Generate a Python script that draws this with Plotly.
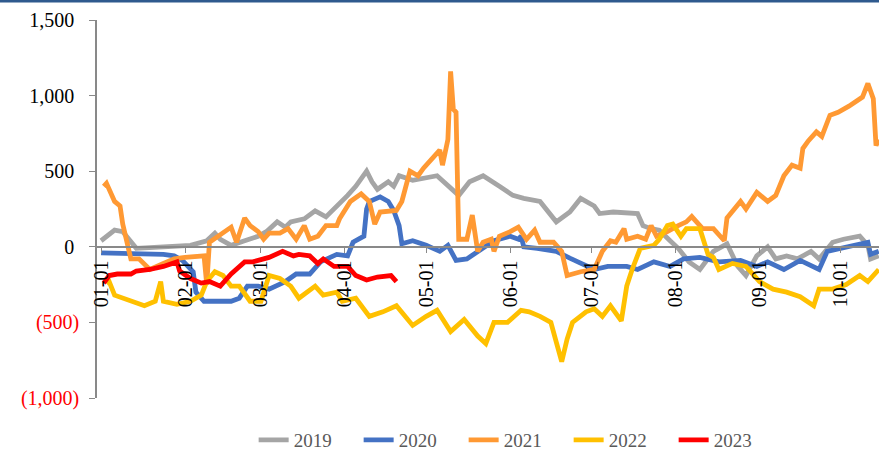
import plotly.graph_objects as go

# x = day of year (0 = Jan 1), y = value
tick_days = [0, 31, 59, 90, 120, 151, 181, 212, 243, 273]
tick_labels = ["01-01", "02-01", "03-01", "04-01", "05-01", "06-01", "07-01", "08-01", "09-01", "10-01"]

y_tickvals = [1500, 1000, 500, 0, -500, -1000]
y_ticklabels = ["1,500", "1,000", "500", "0", "(500)", "(1,000)"]

d2019 = [0, 5, 8, 11, 13, 23, 33, 39, 42, 44, 48, 53, 58, 61, 65, 68, 70, 75, 79, 83, 87, 91, 94, 98, 100, 102, 106, 108,
         110, 115, 124, 128, 132, 136, 141, 147, 152, 156, 161, 162, 168, 173, 177, 182, 184, 189, 198, 200, 203, 206,
         210, 213, 217, 221, 226, 231, 235, 238, 242, 246, 249, 253, 257, 262, 265, 270, 274, 280, 283, 284, 287]
v2019 = [40, 110, 100, 40, -10, 0, 10, 40, 90, 50, 10, 40, 70, 100, 165, 130, 165, 185, 238, 198, 265, 340, 400, 500, 430, 380, 430, 400,
         470, 440, 470, 400, 340, 430, 470, 400, 340, 320, 300, 300, 165, 230, 320, 270, 220, 230, 220, 140, 120, 110,
         40, -10, -100, -150, -30, 20, -130, -190, -60, 0, -80, -60, -80, -30, -80, 30, 50, 70, 10, -80, -60]

d2020 = [0, 23, 27, 30, 34, 35, 38, 43, 48, 51, 54, 58, 62, 68, 72, 77, 81, 87, 91, 93, 97, 98, 99, 103, 106, 108, 110, 111,
         115, 120, 125, 128, 131, 135, 139, 145, 151, 154, 155, 156, 161, 168, 173, 177, 182, 187, 194, 198, 204, 210,
         215, 221, 228, 236, 242, 246, 252, 258, 265, 268, 273, 280, 283, 284, 287]
v2020 = [-40, -50, -60, -90, -165, -300, -360, -360, -360, -340, -260, -260, -280, -230, -180, -180, -100, -50, -60, 30, 70, 250, 300, 330, 300, 240, 140, 20,
         40, 10, -30, 10, -90, -80, -30, 40, 70, 50, 70, 0, -10, -30, -75, -110, -150, -130, -130, -150, -100, -130,
         -80, -70, -100, -90, -130, -100, -150, -90, -150, -30, -10, 20, 30, -50, -30]

d2021 = [1, 2, 5, 7, 8, 11, 14, 18, 23, 27, 31, 38, 39, 40, 48, 50, 53, 55, 58, 60, 62, 66, 69, 72, 75, 77, 80, 83, 87,
         88, 92, 96, 99, 101, 103, 109, 111, 114, 117, 119, 125, 126, 128, 129, 130, 131, 132, 135, 137, 139, 141, 144,
         145, 147, 151, 154, 157, 160, 162, 167, 170, 172, 177, 182, 185, 188, 190, 193, 194, 198, 201, 203, 205, 209,
         213, 216, 218, 222, 226, 230, 231, 233, 236, 238, 242, 246, 249, 252, 255, 258, 259, 261, 264, 266, 269, 272,
         276, 281, 283, 285, 286, 287]
v2021 = [400, 420, 300, 270, 150, -80, -80, -150, -110, -80, -70, -60, -250, 30, 130, 30, 190, 140, 100, 50, 90, 90, 120, 50, 140, 50, 70, 140, 140,
         185, 300, 350, 300, 150, 230, 240, 300, 500, 470, 520, 640, 540, 710, 1160, 910, 890, 50, 50, 210, -30, 30, 50,
         -30, 70, 100, 130, 50, 110, 30, 30, -30, -190, -165, -150, -30, 40, 30, 120, 50, 70, 50, 140, 70, 100,
         140, 165, 200, 120, 120, 40, 190, 230, 300, 250, 360, 300, 340, 470, 540, 520, 650, 700, 760, 730, 870, 890,
         930, 990, 1080, 980, 670, 710]

d2022 = [2, 3, 5, 8, 12, 16, 20, 22, 23, 28, 33, 37, 39, 42, 45, 48, 51, 55, 59, 62, 66, 70, 73, 79, 82, 87, 89, 94, 99,
         104, 109, 115, 120, 124, 129, 134, 139, 142, 145, 150, 155, 158, 162, 166, 168, 170, 172, 174, 179, 182, 185,
         188, 192, 194, 196, 199, 204, 206, 209, 211, 214, 216, 221, 224, 226, 228, 233, 238, 243, 248, 253, 258, 263,
         265, 270, 275, 280, 283, 287]
v2022 = [-240, -230, -320, -340, -360, -390, -360, -230, -360, -380, -360, -320, -230, -165, -190, -260, -260, -360, -360, -190, -210, -260, -340, -260, -320, -300, -360, -340, -460,
         -430, -390, -520, -460, -420, -560, -480, -590, -640, -500, -500, -420, -430, -460, -500, -630, -760, -610, -500, -430, -410, -460,
         -390, -490, -260, -150, -10, 10, 50, 140, 150, 70, 120, 120, -50, -70, -150, -110, -130, -230, -280, -300, -330, -390,
         -280, -280, -250, -190, -230, -150]

d2023 = [1, 3, 6, 11, 13, 18, 23, 28, 29, 33, 37, 40, 44, 48, 53, 56, 62, 67, 71, 73, 77, 80, 82, 86, 91, 94, 98, 102, 107, 109]
v2023 = [-240, -190, -180, -180, -160, -150, -130, -100, -160, -210, -240, -230, -260, -180, -100, -100, -70, -30, -60, -50, -60, -110, -80, -130, -130, -190, -220, -200, -190, -230]

series = [
    ("2019", d2019, v2019, "#A5A5A5"),
    ("2020", d2020, v2020, "#4472C4"),
    ("2021", d2021, v2021, "#FF9933"),
    ("2022", d2022, v2022, "#FFC000"),
    ("2023", d2023, v2023, "#FF0000"),
]

fig = go.Figure()
for name, xs, ys, col in series:
    fig.add_trace(go.Scatter(x=xs, y=ys, mode="lines", name=name,
                             line=dict(color=col, width=4.8)))

red_span = "<span style='color:#FF0000'>{}</span>"
ytext = [t + "\u00a0" if not t.startswith("(") else red_span.format(t) for t in y_ticklabels]

font_family = "Liberation Serif, Times New Roman, serif"
W, H = 879, 459
L, R, T, B = 97, 0, 20, 60
plot_h = H - T - B

fig.update_layout(
    width=W, height=H,
    margin=dict(l=L, r=R, t=T, b=B, pad=0),
    paper_bgcolor="white", plot_bgcolor="white",
    font=dict(family=font_family, size=20, color="black"),
    showlegend=True,
    legend=dict(orientation="h", x=0.536, xanchor="center", y=-0.111, yanchor="middle",
                font=dict(family=font_family, size=19, color="#595959"),
                entrywidth=60, bgcolor="rgba(0,0,0,0)"),
    xaxis=dict(range=[-1.5, 287.1], tickvals=tick_days, ticktext=tick_labels, tickangle=-90,
               showgrid=False, zeroline=False, showline=True, linecolor="#898989", linewidth=1.5,
               ticks="outside", ticklen=5, tickcolor="#898989", anchor="free", position=0.4,
               tickfont=dict(family=font_family, size=20, color="black")),
    yaxis=dict(range=[-1000, 1500], tickvals=y_tickvals, ticktext=ytext,
               showgrid=False, zeroline=False, showline=True, linecolor="#898989", linewidth=1.5,
               ticks="outside", ticklen=6, tickcolor="#898989", ticklabelstandoff=6,
               tickfont=dict(family=font_family, size=20, color="black")),
    shapes=[dict(type="line", xref="paper", yref="paper", x0=-0.2, x1=1.2,
                 y0=1 + 19.0 / plot_h, y1=1 + 19.0 / plot_h, line=dict(color="#2F5A8E", width=3))],
)

fig.write_html("out.html", config={"displayModeBar": False},
               post_script="document.body.style.margin='0';document.body.style.overflow='hidden';")
